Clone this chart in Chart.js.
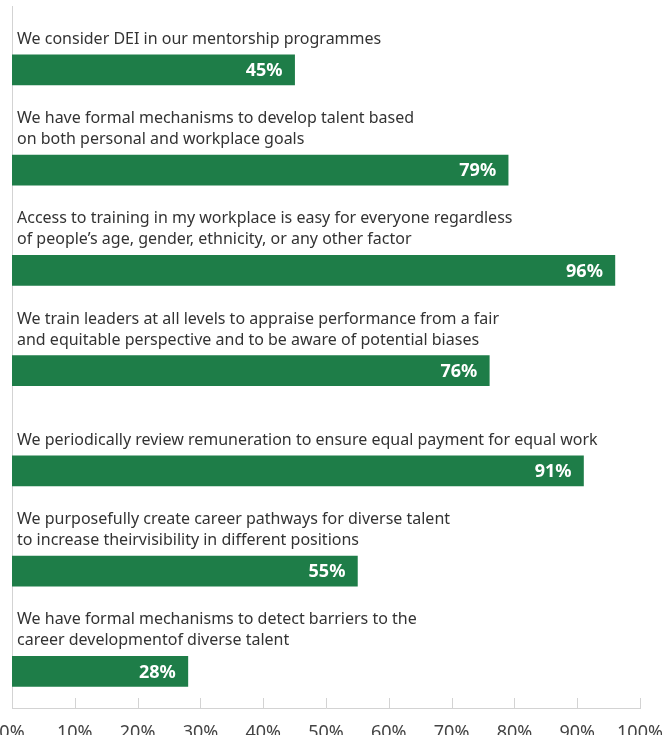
<!DOCTYPE html>
<html>
<head>
<meta charset="utf-8">
<script src="https://cdn.jsdelivr.net/npm/chart.js@4"></script>
<style>
  html, body { margin: 0; padding: 0; overflow: hidden; background: #fff; }
  #wrap { width: 672px; height: 760px; }
</style>
</head>
<body>
<div id="wrap"><canvas id="deiChart"></canvas></div>
<script>
// statements, one entry per bar (each entry = the wrapped lines)
var categories = [
  ['We consider DEI in our mentorship programmes'],
  ['We have formal mechanisms to develop talent based', 'on both personal and workplace goals'],
  ['Access to training in my workplace is easy for everyone regardless', 'of people\u2019s age, gender, ethnicity, or any other factor'],
  ['We train leaders at all levels to appraise performance from a fair', 'and equitable perspective and to be aware of potential biases'],
  ['We periodically review remuneration to ensure equal payment for equal work'],
  ['We purposefully create career pathways for diverse talent', 'to increase theirvisibility in different positions'],
  ['We have formal mechanisms to detect barriers to the', 'career developmentof diverse talent']
];
var values = [45, 79, 96, 76, 91, 55, 28];
var xTicks = [0, 10, 20, 30, 40, 50, 60, 70, 80, 90, 100];

var barColor = '#1e7d48';
var axisColor = '#d3d3d3';
var fontFamily = '"Noto Sans", sans-serif';

var barctx = document.getElementById('deiChart').getContext('2d');

// bars sit on a numeric index axis so each one can have its statement above it
function getBarData() {
  var data = [];
  for (var i = 0; i < values.length; i++) {
    data.push({ x: values[i], y: i });
  }
  return data;
}

var barLabels = {
  id: 'barLabels',
  afterDatasetsDraw: function (chart) {
    var ctx = chart.ctx;
    var meta = chart.getDatasetMeta(0);
    var left = chart.chartArea.left;
    ctx.save();
    meta.data.forEach(function (bar, i) {
      var p = bar.getProps(['x', 'y', 'height'], true);
      var top = p.y - p.height / 2;
      var lines = categories[i];

      // statement text above the bar
      ctx.fillStyle = '#333333';
      ctx.font = '16px ' + fontFamily;
      ctx.textAlign = 'left';
      ctx.textBaseline = 'alphabetic';
      for (var k = 0; k < lines.length; k++) {
        var baseline = top - 11 - (lines.length - 1 - k) * 21;
        ctx.fillText(lines[k], left + 5, baseline);
      }

      // value inside the end of the bar
      ctx.fillStyle = '#ffffff';
      ctx.font = 'bold 18px ' + fontFamily;
      ctx.textAlign = 'right';
      ctx.textBaseline = 'middle';
      ctx.fillText(values[i] + '%', p.x - 12, p.y + 1);
    });

    // short tick marks rising from the x axis
    var xScale = chart.scales.x;
    var bottom = chart.chartArea.bottom;
    ctx.strokeStyle = axisColor;
    ctx.lineWidth = 1;
    xTicks.forEach(function (t) {
      var px = Math.round(xScale.getPixelForValue(t)) + 0.5;
      ctx.beginPath();
      ctx.moveTo(px, bottom - 10);
      ctx.lineTo(px, bottom);
      ctx.stroke();
    });
    ctx.restore();
  }
};

function createBarChartConfig() {
  return {
    type: 'bar',
    data: {
      datasets: [{
        data: getBarData(),
        backgroundColor: barColor,
        borderWidth: 0,
        barThickness: 30
      }]
    },
    options: {
      indexAxis: 'y',
      responsive: true,
      maintainAspectRatio: false,
      animation: false,
      layout: {
        padding: { top: 6, right: 32, left: 0, bottom: 0 }
      },
      plugins: {
        legend: { display: false },
        tooltip: { enabled: false }
      },
      scales: {
        x: {
          min: 0,
          max: 100,
          afterBuildTicks: function (scale) {
            scale.ticks = xTicks.map(function (v) { return { value: v }; });
          },
          afterFit: function (scale) {
            scale.height = 52;
            scale.paddingLeft = 0;
            scale.paddingRight = 0;
          },
          grid: { display: false, drawTicks: false },
          border: { color: axisColor },
          ticks: {
            padding: 14,
            color: '#444444',
            font: { size: 18, family: fontFamily },
            callback: function (v) { return v + '%'; }
          }
        },
        y: {
          type: 'linear',
          bounds: 'data',
          reverse: true,
          min: -0.638,
          max: 6.365,
          afterBuildTicks: function (scale) {
            scale.ticks = [];
          },
          afterFit: function (scale) {
            scale.width = 12;
            scale.paddingTop = 0;
            scale.paddingBottom = 0;
          },
          grid: { display: false, drawTicks: false },
          border: { color: axisColor },
          ticks: { display: false }
        }
      }
    },
    plugins: [barLabels]
  };
}

var barChart = new Chart(barctx, createBarChartConfig());
</script>
</body>
</html>
